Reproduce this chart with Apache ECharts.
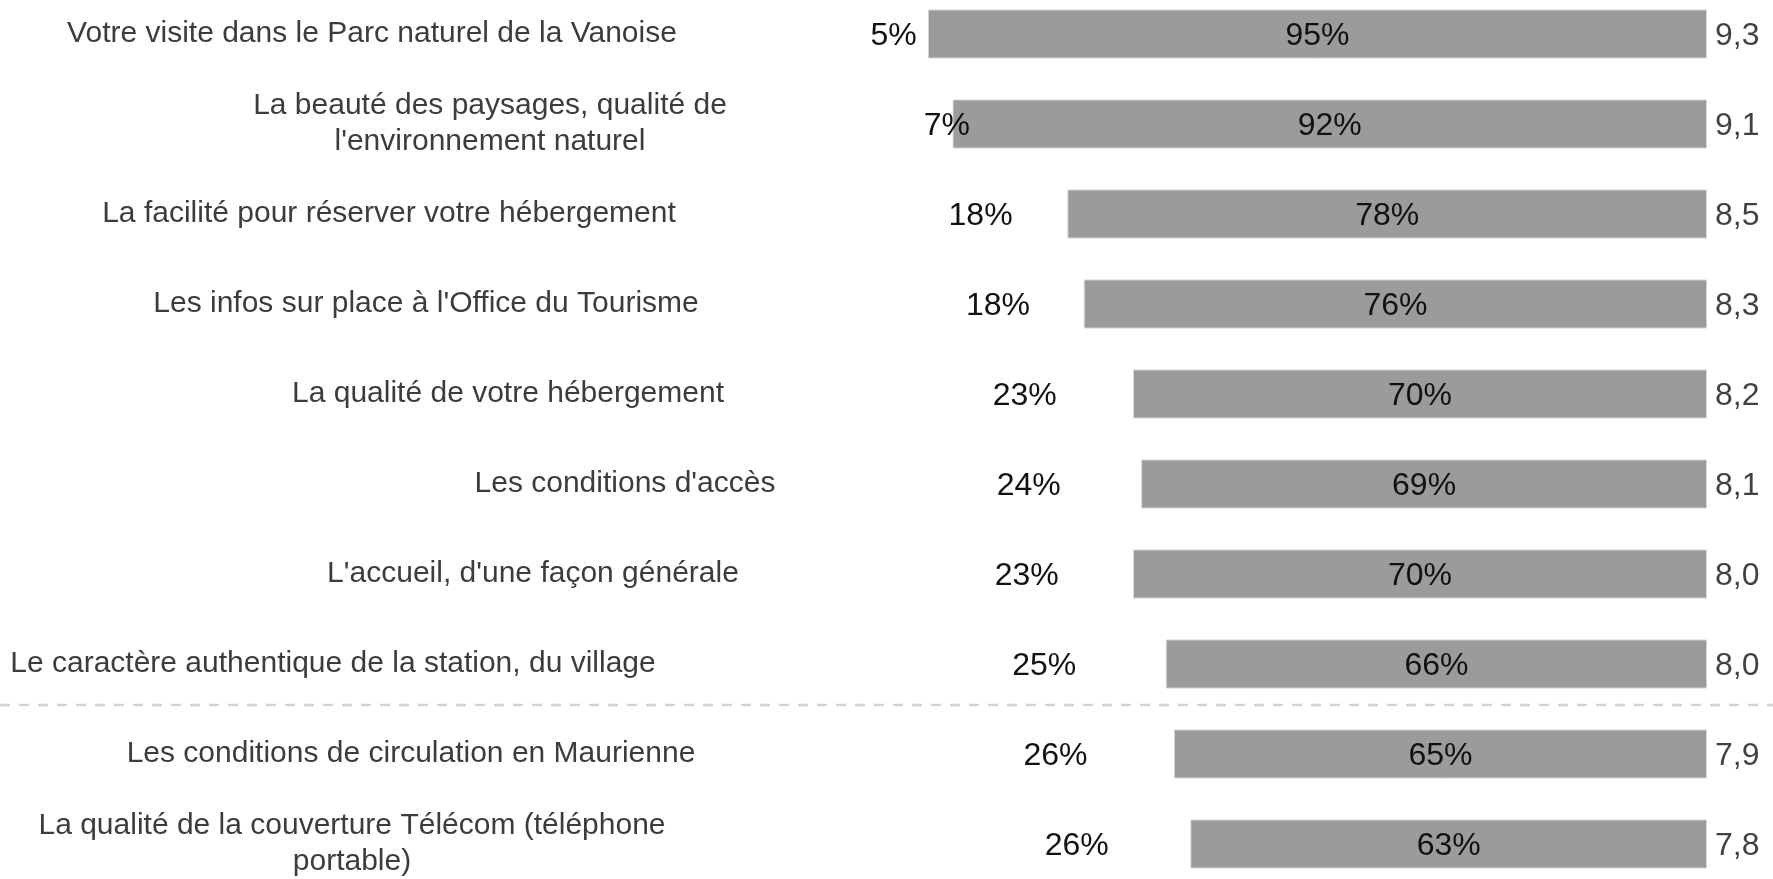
<!DOCTYPE html>
<html>
<head>
<meta charset="utf-8">
<script src="https://cdn.jsdelivr.net/npm/echarts@6/dist/echarts.min.js"></script>
<style>
html,body{margin:0;padding:0;background:#fff}
#main{width:1773px;height:879px}
</style>
</head>
<body>
<div id="main"></div>
<script>
// libellés des critères
let categories = [
    'Votre visite dans le Parc naturel de la Vanoise',
    'La beauté des paysages, qualité de\nl\'environnement naturel',
    'La facilité pour réserver votre hébergement',
    'Les infos sur place à l\'Office du Tourisme',
    'La qualité de votre hébergement',
    'Les conditions d\'accès',
    'L\'accueil, d\'une façon générale',
    'Le caractère authentique de la station, du village',
    'Les conditions de circulation en Maurienne',
    'La qualité de la couverture Télécom (téléphone\nportable)'
]
let satisfaits = [95, 92, 78, 76, 70, 69, 70, 66, 65, 63]   // % satisfaits (barre grise)
let insatisfaits = [5, 7, 18, 18, 23, 24, 23, 25, 26, 26]   // % insatisfaits (à gauche)
let notes = [9.3, 9.1, 8.5, 8.3, 8.2, 8.1, 8.0, 8.0, 7.9, 7.8] // note moyenne /10

// mise en page seulement : centre de chaque libellé (px) et décalage des % insatisfaits
let labelCentre = [372, 490, 389, 426, 508, 625, 533, 333, 411, 352]
let decalageInsat = [-14, 23, -13, -12, -14, -14, -12, -19, -12, -7]

var chart = echarts.init(document.getElementById('main'));
let font = '"Liberation Sans", Arial, sans-serif'
let gridLeft = 887
let centreBase = 450

let yData = categories.map((c, i) => {
    let s = labelCentre[i] - centreBase
    let pad = s < 0 ? [10, -2 * s, 0, 0] : [10, 0, 0, 2 * s]
    return { value: c, textStyle: { align: 'center', padding: pad } }
})

let fmtNote = v => v.toFixed(1).replace('.', ',')

option = {
    animation: false,
    grid: { left: gridLeft, right: 66, top: -11, height: 900, outerBoundsMode: 'none', containLabel: false },
    xAxis: {
        type: 'value', min: 0, max: 100, inverse: true, show: false
    },
    yAxis: {
        type: 'category',
        inverse: true,
        data: yData,
        axisLine: { show: false },
        axisTick: { show: false },
        splitLine: { show: false },
        axisLabel: {
            interval: 0,
            align: 'center',
            margin: gridLeft - centreBase,
            fontFamily: font,
            fontSize: 30,
            lineHeight: 36,
            color: '#3c3c3c'
        }
    },
    series: [
        {
            name: 'Satisfaits',
            type: 'bar',
            stack: 'a',
            barWidth: 49,
            data: satisfaits,
            itemStyle: { color: '#9b9b9b', borderColor: '#d4d4d4', borderWidth: 1 },
            label: {
                show: true,
                position: 'inside',
                offset: [0, 2],
                formatter: p => p.value + '%',
                fontFamily: font,
                fontSize: 32,
                color: '#111'
            }
        },
        {
            name: 'Insatisfaits',
            type: 'bar',
            stack: 'a',
            barWidth: 49,
            data: insatisfaits.map((v, i) => ({ value: v, label: { offset: [decalageInsat[i], 2] } })),
            itemStyle: { color: 'rgba(0,0,0,0)' },
            label: {
                show: true,
                position: 'inside',
                formatter: p => p.value + '%',
                fontFamily: font,
                fontSize: 32,
                color: '#111'
            }
        },
        {
            name: 'Note',
            type: 'scatter',
            symbolSize: 0,
            data: notes.map((n, i) => [0, i, n]),
            label: {
                show: true,
                position: 'right',
                distance: 8,
                offset: [0, 2],
                formatter: p => fmtNote(p.value[2]),
                fontFamily: font,
                fontSize: 32,
                color: '#111'
            }
        }
    ]
};

chart.setOption(option);

// ligne de séparation pointillée entre le 8e et le 9e critère
let ya = chart.convertToPixel({ yAxisIndex: 0 }, categories[7])
let yb = chart.convertToPixel({ yAxisIndex: 0 }, categories[8])
let ySep = (ya + yb) / 2 - 4
chart.setOption({
    graphic: [{
        type: 'line',
        shape: { x1: 0, y1: ySep, x2: chart.getWidth(), y2: ySep },
        style: { stroke: '#d3d3d3', lineWidth: 2.5, lineDash: [10, 9] },
        silent: true
    }]
});
</script>
</body>
</html>
